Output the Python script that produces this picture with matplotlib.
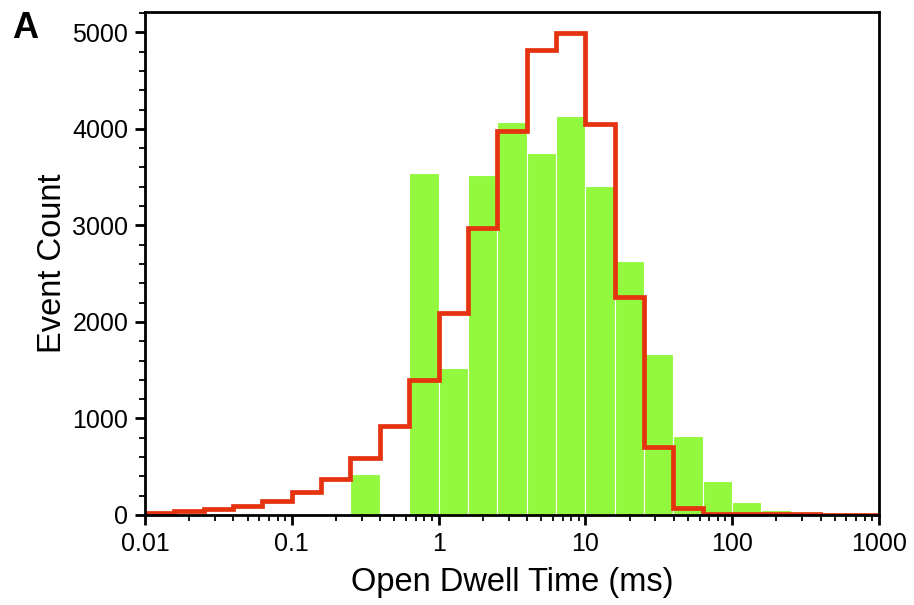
import numpy as np
import matplotlib
matplotlib.use("Agg")
import matplotlib.pyplot as plt
from matplotlib.ticker import MultipleLocator, LogLocator, NullFormatter, FixedLocator, FixedFormatter

plt.rcParams['font.family'] = ['Liberation Sans', 'DejaVu Sans']

# bin edges: five bins per decade, 0.01 ms .. 1000 ms
bin_edges = [0.01, 0.0158, 0.0251, 0.0398, 0.0631,
             0.1, 0.158, 0.251, 0.398, 0.631,
             1, 1.58, 2.51, 3.98, 6.31,
             10, 15.8, 25.1, 39.8, 63.1,
             100, 158, 251, 398, 631, 1000]

# measured histogram (green bars)
observed = [0, 0, 0, 0, 0,
            0, 0, 420, 0, 3545,
            1525, 3520, 4070, 3750, 4135,
            3410, 2630, 1665, 815, 350,
            135, 55, 10, 5, 2]

# fitted distribution (red step line)
fitted = [20, 40, 60, 95, 150,
          240, 375, 590, 920, 1400,
          2090, 2975, 3975, 4815, 4990,
          4050, 2255, 700, 70, 15,
          10, 8, 6, 5, 5]

xtick_vals = [0.01, 0.1, 1, 10, 100, 1000]
xtick_labels = ['0.01', '0.1', '1', '10', '100', '1000']

fig = plt.figure(figsize=(9.14, 6.05), dpi=100)
ax = fig.add_axes([145 / 914, 90 / 605, 734 / 914, 503 / 605])

edges = np.array(bin_edges)
lefts = edges[:-1]
widths = edges[1:] - edges[:-1]
ax.bar(lefts, observed, width=widths, align='edge', color='#93f93f',
       edgecolor='white', linewidth=0.8, zorder=2)
ax.stairs(fitted, edges, baseline=None, color='#e5330f', linewidth=3.4,
          zorder=3)

ax.set_xscale('log')
ax.set_xlim(0.01, 1000)
ax.set_ylim(0, 5210)

ax.xaxis.set_major_locator(FixedLocator(xtick_vals))
ax.xaxis.set_major_formatter(FixedFormatter(xtick_labels))
ax.xaxis.set_minor_locator(LogLocator(base=10, subs=np.arange(2, 10)))
ax.xaxis.set_minor_formatter(NullFormatter())
ax.yaxis.set_major_locator(MultipleLocator(1000))
ax.yaxis.set_minor_locator(MultipleLocator(200))

ax.tick_params(which='major', direction='out', length=7, width=2,
               labelsize=18, top=False, right=False, pad=5)
ax.tick_params(which='minor', direction='out', length=4, width=1.3,
               top=False, right=False)

for sp in ax.spines.values():
    sp.set_linewidth(2)
    sp.set_zorder(4)

ax.set_xlabel('Open Dwell Time (ms)', fontsize=23.5, labelpad=8)
ax.set_ylabel('Event Count', fontsize=23.5, labelpad=3)

fig.text(12 / 914, 1 - 38 / 605, 'A', fontsize=26, fontweight='bold')

fig.savefig('out.png', dpi=100)
